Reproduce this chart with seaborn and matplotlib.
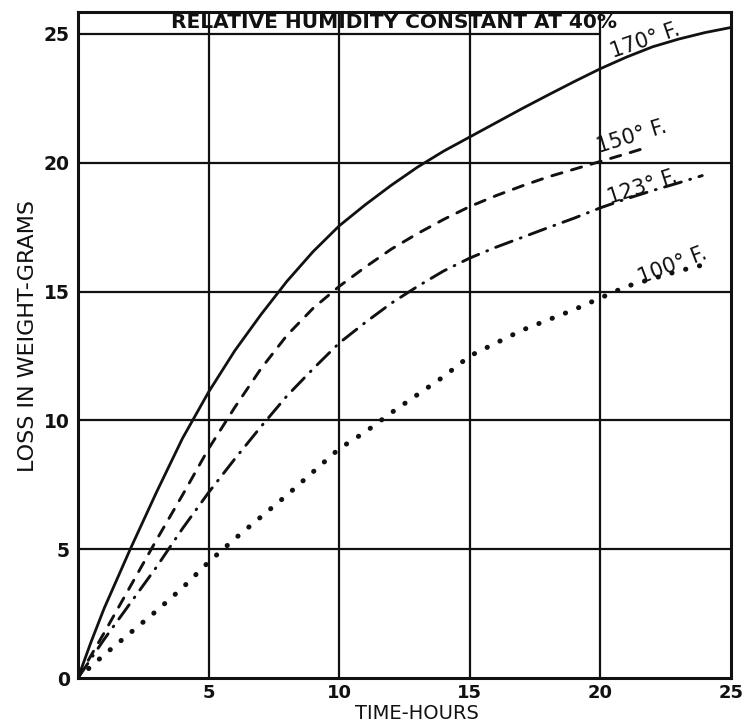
import numpy as np
import pandas as pd
import matplotlib
matplotlib.use("Agg")
import matplotlib.pyplot as plt
import seaborn as sns

# ---- data ----
x_170 = [0, 0.5, 1, 2, 3, 4, 5, 6, 7, 8, 9, 10, 11, 12, 13, 14, 15, 16, 17, 18, 19, 20, 21, 22, 23, 24, 25]
y_170 = [0, 1.4, 2.7, 5.0, 7.2, 9.3, 11.1, 12.7, 14.1, 15.4, 16.55, 17.55, 18.37, 19.13, 19.83, 20.45,
         21.0, 21.55, 22.1, 22.63, 23.15, 23.65, 24.1, 24.5, 24.8, 25.05, 25.25]

x_150 = [0, 1, 2, 3, 4, 5, 6, 7, 8, 9, 10, 11, 12, 13, 14, 15, 16, 17, 18, 19, 20, 21, 21.8]
y_150 = [0, 1.75, 3.55, 5.35, 7.1, 8.9, 10.5, 12.0, 13.3, 14.35, 15.2, 15.95, 16.65, 17.25, 17.8,
         18.3, 18.72, 19.1, 19.45, 19.75, 20.05, 20.35, 20.6]

x_123 = [0, 1, 2, 3, 4, 5, 6, 7, 8, 9, 10, 11, 12, 13, 14, 15, 16, 17, 18, 19, 20, 21, 22, 23, 23.9]
y_123 = [0, 1.5, 2.9, 4.3, 5.8, 7.2, 8.5, 9.75, 10.95, 12.0, 13.0, 13.8, 14.55, 15.2, 15.8, 16.3,
         16.72, 17.1, 17.48, 17.85, 18.25, 18.6, 18.92, 19.22, 19.5]

x_100 = [0, 1, 2, 3, 4, 5, 6, 7, 8, 9, 10, 11, 12, 13, 14, 15, 17, 19, 21, 23, 24.2]
y_100 = [0, 0.9, 1.75, 2.6, 3.5, 4.5, 5.4, 6.25, 7.1, 8.0, 8.9, 9.55, 10.3, 11.0, 11.7, 12.5,
         13.5, 14.3, 15.2, 15.8, 16.1]

curve_labels = ["170° F.", "150° F.", "123° F.", "100° F."]
label_x = [21.7, 21.2, 21.6, 22.75]
label_y = [24.75, 21.0, 19.05, 16.0]
label_rot = [19, 17, 18, 21]

x_ticks = [5, 10, 15, 20, 25]
y_ticks = [0, 5, 10, 15, 20, 25]
title_text = "RELATIVE HUMIDITY CONSTANT AT 40%"
x_label = "TIME-HOURS"
y_label = "LOSS IN WEIGHT-GRAMS"

# ---- plotting ----
sns.set_theme(style="white")
plt.rcParams["font.family"] = ["DejaVu Sans"]

fig = plt.figure(figsize=(7.46, 7.26), dpi=100)
fig.patch.set_facecolor("white")
ax = fig.add_axes([78 / 746, 48 / 726, 653 / 746, 666 / 726])
ax.set_facecolor("white")

ink = "#111111"
series = [
    (x_170, y_170, dict(linestyle="-", lw=2.0, solid_joinstyle="round")),
    (x_150, y_150, dict(linestyle=(0, (3.6, 3.4)), lw=2.1, dash_capstyle="round",
                        dash_joinstyle="round")),
    (x_123, y_123, dict(linestyle=(0, (6.0, 3.0, 0.3, 3.0)), lw=2.1, dash_capstyle="round",
                        dash_joinstyle="round")),
    (x_100, y_100, dict(linestyle=(0, (0.05, 2.8)), lw=3.6, dash_capstyle="round")),
]
for xs, ys, kw in series:
    df = pd.DataFrame({"x": xs, "y": ys})
    sns.lineplot(data=df, x="x", y="y", ax=ax, color=ink, sort=False,
                 errorbar=None, zorder=3, **kw)

ax.set_xlim(0, 25)
ax.set_ylim(0, 25.85)

# grid (the top line at 25 doubles as the title underline and stops at 20)
for gx in [5, 10, 15, 20]:
    ax.axvline(gx, color=ink, lw=1.6, zorder=1)
for gy in [5, 10, 15, 20]:
    ax.axhline(gy, color=ink, lw=1.6, zorder=1)
ax.hlines(25, 0, 20, color=ink, lw=1.6, zorder=1)

for s in ax.spines.values():
    s.set_visible(True)
    s.set_color(ink)
    s.set_linewidth(2.2)

ax.set_xticks(x_ticks)
ax.set_yticks(y_ticks)
ax.set_xticklabels([str(t) for t in x_ticks], fontsize=13, fontweight="bold", color=ink)
ax.set_yticklabels([str(t) for t in y_ticks], fontsize=13.5, fontweight="bold", color=ink)
ax.tick_params(axis="both", length=0, pad=6)
ax.tick_params(axis="x", pad=4)

ax.set_xlabel(x_label, fontsize=14, color=ink, labelpad=0)
ax.set_ylabel(y_label, fontsize=16, color=ink, labelpad=0)
ax.xaxis.set_label_coords(0.519, -0.0395)
ax.yaxis.set_label_coords(-0.062, 0.514)

ax.text(12.1, 25.43, title_text, ha="center", va="center", fontsize=14.5,
        fontweight="bold", color=ink, zorder=4)

for lab, lx, ly, lr in zip(curve_labels, label_x, label_y, label_rot):
    ax.text(lx, ly, lab, ha="center", va="center", rotation=lr,
            rotation_mode="anchor", fontsize=15, color=ink, zorder=4)

fig.savefig("out.png", dpi=100, facecolor="white")
